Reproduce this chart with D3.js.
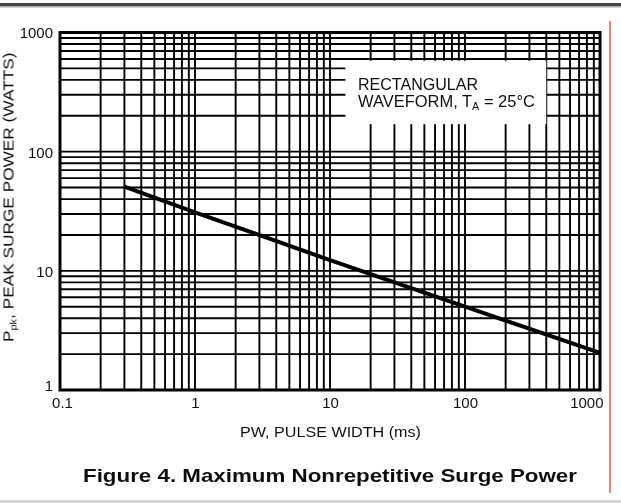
<!DOCTYPE html>
<html>
<head>
<meta charset="utf-8">
<script src="https://cdn.jsdelivr.net/npm/d3@7"></script>
<style>
  body { margin: 0; background: #fff; }
  svg { display: block; font-family: "Liberation Sans", Arial, Helvetica, sans-serif; }
</style>
</head>
<body>
<div id="chart"></div>
<script>
// curve (pulse width in ms --> peak power in W)
const pulseWidthMs = [0.3, 1, 10, 100, 1000];
const peakPowerW = [51, 31, 12.3, 5.0, 2.05];

const xTickLabels = ["0.1", "1", "10", "100", "1000"];
const yTickLabels = ["1", "10", "100", "1000"];

const noteLines = ["RECTANGULAR", "WAVEFORM, T"];
const xTitle = "PW, PULSE WIDTH (ms)";
const figTitle = "Figure 4. Maximum Nonrepetitive Surge Power";

var cfg = {
  width: 621,
  height: 504,
  margin: {top: 32.5, right: 21, bottom: 114, left: 60}
};

var scale = {
  x: d3.scaleLog()
      .domain([0.1, 1000])
      .range([cfg.margin.left, cfg.width - cfg.margin.right]),
  y: d3.scaleLog()
      .domain([1, 1000])
      .range([cfg.height - cfg.margin.bottom, cfg.margin.top])
};

var svg = d3.select("#chart").append("svg")
    .attr("width", cfg.width)
    .attr("height", cfg.height);

// soft edges, like the scanned datasheet
svg.append("defs").append("filter")
    .attr("id", "scan")
    .attr("x", 0).attr("y", 0).attr("width", 1).attr("height", 1)
  .append("feGaussianBlur")
    .attr("stdDeviation", 0.45);

var root = svg.append("g").attr("filter", "url(#scan)");
root.append("rect").attr("width", cfg.width).attr("height", cfg.height).attr("fill", "#fff");

// squeeze a text so it spans the width seen in the scan
function fitWidth(sel, w){
  sel.attr("textLength", w).attr("lengthAdjust", "spacingAndGlyphs");
}

// page rules (top double line, bottom line, red margin line)
root.append("rect").attr("x", 0).attr("y", 3).attr("width", cfg.width).attr("height", 3.5).attr("fill", "#4a4a4a");
root.append("rect").attr("x", 0).attr("y", 6.5).attr("width", cfg.width).attr("height", 1).attr("fill", "#aaa");
root.append("rect").attr("x", 0).attr("y", 500.5).attr("width", cfg.width).attr("height", 2).attr("fill", "#c4c4c4");
root.append("line")
    .attr("x1", 610).attr("x2", 610).attr("y1", 21).attr("y2", 493)
    .attr("stroke", "#f47f7f").attr("stroke-width", 2);

var x0 = scale.x.range()[0], x1 = scale.x.range()[1];
var y0 = scale.y.range()[0], y1 = scale.y.range()[1];

// grid
var grid = root.append("g").attr("id", "grid");
grid.selectAll("line.gx")
  .data(scale.x.ticks())
  .enter().append("line")
    .attr("class", "gx")
    .attr("x1", d => scale.x(d)).attr("x2", d => scale.x(d))
    .attr("y1", y1).attr("y2", y0)
    .attr("stroke", "#000").attr("stroke-width", 1.9);
grid.selectAll("line.gy")
  .data(scale.y.ticks())
  .enter().append("line")
    .attr("class", "gy")
    .attr("x1", x0).attr("x2", x1)
    .attr("y1", d => scale.y(d)).attr("y2", d => scale.y(d))
    .attr("stroke", "#000").attr("stroke-width", 1.9);

// note box covering the grid
var note = root.append("g").attr("id", "note");
note.append("rect")
    .attr("x", scale.x(13)).attr("y", scale.y(580))
    .attr("width", scale.x(400) - scale.x(13))
    .attr("height", scale.y(170) - scale.y(580))
    .attr("fill", "#fff");
var t1 = note.append("text")
    .attr("x", 358).attr("y", 89.5)
    .style("font-size", "16px").attr("fill", "#111")
    .text(noteLines[0]);
fitWidth(t1, 120);
var l2 = note.append("g");
var t2 = l2.append("text")
    .attr("x", 0).attr("y", 0)
    .style("font-size", "16px").attr("fill", "#111");
t2.append("tspan").text(noteLines[1]);
t2.append("tspan").attr("dy", 3).style("font-size", "10.5px").text("A");
t2.append("tspan").attr("dy", -3).text(" = 25\u00B0C");
var w2 = t2.node().getComputedTextLength();
l2.attr("transform", `translate(358,106.5) scale(${177 / w2},1)`);

// curve
var line = d3.line()
    .x((d, i) => scale.x(pulseWidthMs[i]))
    .y(d => scale.y(d));
root.append("path")
    .datum(peakPowerW)
    .attr("d", line)
    .attr("fill", "none")
    .attr("stroke", "#000")
    .attr("stroke-width", 4);

// frame
root.append("rect")
    .attr("x", x0).attr("y", y1)
    .attr("width", x1 - x0).attr("height", y0 - y1)
    .attr("fill", "none").attr("stroke", "#000").attr("stroke-width", 3);

// axes (labels only, grid does the ticks)
var xAxis = root.append("g")
    .attr("transform", `translate(0,${y0})`)
    .call(d3.axisBottom(scale.x)
        .tickValues(xTickLabels.map(Number))
        .tickSize(0)
        .tickPadding(7)
        .tickFormat((d, i) => xTickLabels[i]));
xAxis.select(".domain").remove();
xAxis.selectAll("text")
    .style("font-size", "15px")
    .style("font-family", "'Liberation Sans', Arial, sans-serif")
    .attr("fill", "#111")
    .attr("dy", "0.71em");
xAxis.selectAll(".tick").filter((d, i) => i === 0).select("text").attr("dx", 2);
xAxis.selectAll(".tick").filter((d, i) => i === xTickLabels.length - 1).select("text")
    .attr("text-anchor", "end").attr("dx", 3);

var yAxis = root.append("g")
    .attr("transform", `translate(${x0},0)`)
    .call(d3.axisLeft(scale.y)
        .tickValues(yTickLabels.map(Number))
        .tickSize(0)
        .tickPadding(7)
        .tickFormat((d, i) => yTickLabels[i]));
yAxis.select(".domain").remove();
yAxis.selectAll("text")
    .style("font-size", "15px")
    .style("font-family", "'Liberation Sans', Arial, sans-serif")
    .attr("fill", "#111")
    .attr("dy", "0.36em");
yAxis.selectAll(".tick").filter((d, i) => i === 0).select("text").attr("dy", "0.05em");

// axis titles
var xt = root.append("text")
    .attr("x", 240).attr("y", 437)
    .style("font-size", "15px").attr("fill", "#111")
    .text(xTitle);
fitWidth(xt, 181);

var yg = root.append("g");
var yt = yg.append("text")
    .style("font-size", "15px").attr("fill", "#111");
yt.append("tspan").text("P");
yt.append("tspan").attr("dy", 3).style("font-size", "9.5px").text("pk");
yt.append("tspan").attr("dy", -3).text(", PEAK SURGE POWER (WATTS)");
var wy = yt.node().getComputedTextLength();
yg.attr("transform", `translate(13.5,342) rotate(-90) scale(${290 / wy},1)`);

// figure caption
var ft = root.append("text")
    .attr("x", 83).attr("y", 481.5)
    .style("font-size", "19px").style("font-weight", "bold").attr("fill", "#111")
    .text(figTitle);
fitWidth(ft, 494);
</script>
</body>
</html>
